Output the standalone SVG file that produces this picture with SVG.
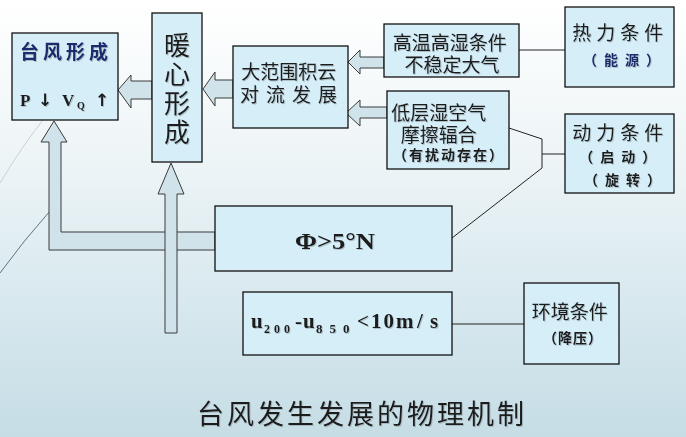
<svg xmlns="http://www.w3.org/2000/svg" width="686" height="437" viewBox="0 0 686 437">
  <defs>
    <linearGradient id="bg" x1="0" y1="0" x2="0" y2="1">
      <stop offset="0" stop-color="#ffffff"/>
      <stop offset="0.35" stop-color="#eef5f7"/>
      <stop offset="0.7" stop-color="#d7e8ee"/>
      <stop offset="1" stop-color="#c6dde5"/>
    </linearGradient>
    <filter id="soft" x="-10%" y="-10%" width="130%" height="140%">
      <feDropShadow dx="1" dy="1" stdDeviation="0.6" flood-color="#7a8a90" flood-opacity="0.45"/>
    </filter>
  </defs>
  <style>
    .box { fill: #d6eef8; stroke: #111; stroke-width: 1.3; }
    .arrow { fill: #d1e3ea; stroke: #3a3a3a; stroke-width: 1; stroke-linejoin: miter; }
    .link { fill: none; stroke: #222; stroke-width: 1; }
    .cn { font-family: "Noto Sans CJK SC", "Noto Sans", sans-serif; fill: #1a1a1a; filter: url(#soft); }
    .navy { fill: #1c2a6e; }
    .num { font-family: "Liberation Serif", "DejaVu Serif", serif; font-weight: bold; fill: #1a1a1a; filter: url(#soft); }
    .note { font-size: 14px; font-weight: bold; }
  </style>

  <!-- backdrop -->
  <rect x="0" y="0" width="686" height="437" fill="url(#bg)"/>
  <path d="M46,116 Q22,146 0,183" fill="none" stroke="#c9d1d6" stroke-width="1"/>
  <path d="M50,211 Q24,240 0,273" fill="none" stroke="#4f6778" stroke-width="0.9"/>

  <!-- connectors -->
  <g id="connectors">
    <!-- 暖心形成 → 台风形成 -->
    <polygon class="arrow" points="118,90 131,75 131,81 152,81 152,99 131,99 131,108"/>
    <!-- 大范围积云 → 暖心形成 -->
    <polygon class="arrow" points="203,89 215,72 215,80 233,80 233,98 215,98 215,106"/>
    <!-- 高温高湿 → 大范围积云 -->
    <polygon class="arrow" points="348,62 360,50 360,57 384,57 384,68 360,68 360,74"/>
    <!-- 低层湿空气 → 大范围积云 -->
    <polygon class="arrow" points="346,113 360,100 360,107 387,107 387,118 360,118 360,126"/>
    <!-- Φ>5°N → 台风形成 (bar + upward arrow) -->
    <polygon class="arrow" points="54,121 67,142 61,142 61,232 215,232 215,250 49,250 49,142 41,142"/>
    <!-- vertical shear → 暖心形成 -->
    <polygon class="arrow" points="171,163 184,194 177,194 177,333 165,333 165,194 158,194"/>

    <!-- thin links to the condition boxes -->
    <line class="link" x1="519" y1="50" x2="565" y2="50"/>
    <polyline class="link" points="509,128 542,139"/>
    <line class="link" x1="542" y1="139" x2="542" y2="168"/>
    <polyline class="link" points="542,168 452,238"/>
    <line class="link" x1="542" y1="154" x2="565" y2="154" stroke="#666"/>
    <line class="link" x1="452" y1="324" x2="524" y2="324"/>
  </g>

  <!-- typhoon formation -->
  <g id="typhoon">
    <rect class="box" x="12" y="33" width="106" height="87"/>
    <text class="cn navy" x="66" y="59" font-size="19" font-weight="bold" text-anchor="middle" letter-spacing="4">台风形成</text>
    <text class="num navy" y="106" font-size="17">
      <tspan x="20">P</tspan>
      <tspan x="38" font-family="DejaVu Sans, sans-serif">↓</tspan>
      <tspan x="62">V</tspan>
      <tspan x="77" dy="3" font-size="10">Q</tspan>
      <tspan x="95" dy="-3" font-family="DejaVu Sans, sans-serif">↑</tspan>
    </text>
  </g>

  <!-- warm core formation (vertical text) -->
  <g id="warmcore">
    <rect class="box" x="152" y="13" width="50" height="149"/>
    <text class="cn" x="177" y="32" font-size="26" writing-mode="vertical-rl" letter-spacing="3">暖心形成</text>
  </g>

  <!-- large-scale cumulus convection -->
  <g id="convection">
    <rect class="box" x="233" y="46" width="115" height="82"/>
    <text class="cn" font-size="19" text-anchor="middle">
      <tspan x="291" y="79">大范围积云</tspan>
      <tspan x="292" y="102" letter-spacing="7">对流发展</tspan>
    </text>
  </g>

  <!-- warm humid unstable air -->
  <g id="warmhumid">
    <rect class="box" x="384" y="24" width="135" height="53"/>
    <text class="cn" font-size="19" text-anchor="middle">
      <tspan x="452" y="50">高温高湿条件</tspan>
      <tspan x="452" y="72">不稳定大气</tspan>
    </text>
  </g>

  <!-- low-level convergence -->
  <g id="convergence">
    <rect class="box" x="387" y="91" width="122" height="78"/>
    <text class="cn" font-size="19" text-anchor="middle">
      <tspan x="441" y="120">低层湿空气</tspan>
      <tspan x="441" y="142">摩擦辐合</tspan>
      <tspan class="note" x="449" y="160" letter-spacing="2">（有扰动存在）</tspan>
    </text>
  </g>

  <!-- thermal condition -->
  <g id="thermal">
    <rect class="box" x="565" y="7" width="109" height="80"/>
    <text class="cn" font-size="19" text-anchor="middle" letter-spacing="5">
      <tspan x="625" y="40">热力条件</tspan>
      <tspan class="note navy" x="625" y="65" letter-spacing="7">（能源）</tspan>
    </text>
  </g>

  <!-- dynamic condition -->
  <g id="dynamic">
    <rect class="box" x="565" y="114" width="109" height="79"/>
    <text class="cn" font-size="19" text-anchor="middle" letter-spacing="5">
      <tspan x="625" y="140">动力条件</tspan>
      <tspan class="note" x="626" y="162" letter-spacing="7">（启动）</tspan>
      <tspan class="note" x="626" y="185" letter-spacing="7">（旋转）</tspan>
    </text>
  </g>

  <!-- latitude -->
  <g id="latitude">
    <rect class="box" x="215" y="206" width="237" height="65"/>
    <text class="num" x="295" y="249" font-size="23" textLength="80" lengthAdjust="spacingAndGlyphs">Φ&gt;5°N</text>
  </g>

  <!-- vertical wind shear -->
  <g id="shear">
    <rect class="box" x="243" y="292" width="209" height="63"/>
    <text class="num" y="328" font-size="21">
      <tspan x="251">u</tspan>
      <tspan x="264" y="333" font-size="12" letter-spacing="4">200</tspan>
      <tspan x="295" y="328">-</tspan>
      <tspan x="303">u</tspan>
      <tspan x="316" y="333" font-size="13" letter-spacing="7">850</tspan>
      <tspan x="357" y="328">&lt;</tspan>
      <tspan x="371" letter-spacing="2">10</tspan>
      <tspan x="396">m</tspan>
      <tspan x="417">/</tspan>
      <tspan x="430">s</tspan>
    </text>
  </g>

  <!-- environmental condition -->
  <g id="environment">
    <rect class="box" x="524" y="283" width="95" height="81"/>
    <text class="cn" font-size="19" text-anchor="middle">
      <tspan x="572" y="319">环境条件</tspan>
      <tspan class="note" x="573" y="343" letter-spacing="1">（降压）</tspan>
    </text>
  </g>

  <!-- caption -->
  <text class="cn" x="362" y="424" font-size="27" text-anchor="middle" letter-spacing="3">台风发生发展的物理机制</text>
</svg>
